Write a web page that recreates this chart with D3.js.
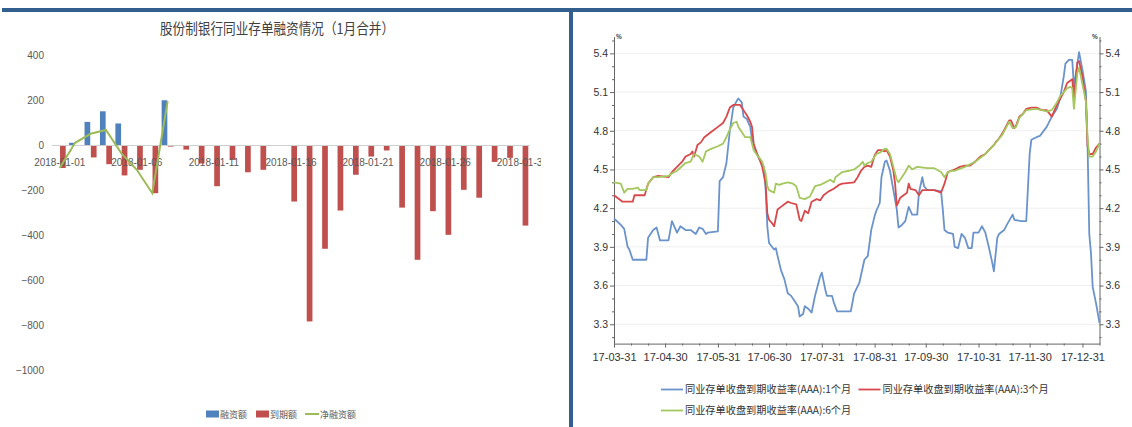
<!DOCTYPE html>
<html><head><meta charset="utf-8">
<script src="https://cdn.jsdelivr.net/npm/d3@7"></script>
<style>
html,body{margin:0;padding:0;background:#fff;}
svg{display:block;}
</style></head><body>
<svg id="c" width="1132" height="427"></svg>
<script>
// ---------- LEFT CHART DATA ----------
const leftTitle = "股份制银行同业存单融资情况（1月合并）";
const days = ["2018-01-01","2018-01-02","2018-01-03","2018-01-04","2018-01-05","2018-01-06","2018-01-07","2018-01-08","2018-01-09","2018-01-10",
  "2018-01-11","2018-01-12","2018-01-13","2018-01-14","2018-01-15","2018-01-16","2018-01-17","2018-01-18","2018-01-19","2018-01-20",
  "2018-01-21","2018-01-22","2018-01-23","2018-01-24","2018-01-25","2018-01-26","2018-01-27","2018-01-28","2018-01-29","2018-01-30","2018-01-31"];
const dayLabels = ["2018-01-01","2018-01-06","2018-01-11","2018-01-16","2018-01-21","2018-01-26","2018-01-31"];
const issuance = [0,12,105,152,98,0,0,201,0,0,0,0,0,0,0,0,0,0,0,0,0,0,0,0,0,0,0,0,0,0,0];
const maturity = [-100,0,-53,-83,-133,-108,-212,-5,-18,-80,-181,-64,-119,-108,-2,-249,-782,-459,-289,-130,-49,-22,-276,-508,-292,-397,-197,-232,-73,-55,-356];
const netDays = ["2018-01-01","2018-01-02","2018-01-03","2018-01-04","2018-01-05","2018-01-06","2018-01-07","2018-01-08"];
const netFinancing = [-100,12,52,69,-35,-108,-212,196];
const leftTicks = [400,200,0,-200,-400,-600,-800,-1000];
const leftLegend = ["融资额","到期额","净融资额"];

// ---------- RIGHT CHART DATA ----------
const rateTicks = [3.3,3.6,3.9,4.2,4.5,4.8,5.1,5.4];
const monthTicks = ["2017-03-31","2017-04-30","2017-05-31","2017-06-30","2017-07-31","2017-08-31","2017-09-30","2017-10-31","2017-11-30","2017-12-31"];
const rightLegend = ["同业存单收盘到期收益率(AAA):1个月","同业存单收盘到期收益率(AAA):3个月","同业存单收盘到期收益率(AAA):6个月"];
const ncd1m = [
["2017-03-31",4.12],["2017-04-04",4.07],["2017-04-06",4.04],["2017-04-08",3.90],["2017-04-09",3.88],["2017-04-11",3.80],["2017-04-19",3.80],
["2017-04-20",3.97],["2017-04-23",4.03],["2017-04-25",4.05],["2017-04-27",3.95],["2017-05-02",3.95],["2017-05-04",4.10],["2017-05-07",4.01],
["2017-05-09",4.06],["2017-05-12",4.03],["2017-05-15",4.03],["2017-05-18",4.00],["2017-05-20",4.05],["2017-05-22",4.04],["2017-05-24",4.00],
["2017-05-25",4.01],["2017-05-31",4.02],["2017-06-01",4.41],["2017-06-03",4.44],["2017-06-05",4.55],["2017-06-07",4.80],["2017-06-09",4.98],
["2017-06-11",5.03],["2017-06-12",5.05],["2017-06-14",5.02],["2017-06-15",4.91],["2017-06-17",4.89],["2017-06-19",4.83],["2017-06-20",4.73],
["2017-06-21",4.69],["2017-06-23",4.62],["2017-06-25",4.56],["2017-06-27",4.52],["2017-06-28",4.35],["2017-06-29",4.06],["2017-06-30",3.93],
["2017-07-03",3.88],["2017-07-04",3.89],["2017-07-05",3.83],["2017-07-07",3.72],["2017-07-09",3.65],["2017-07-11",3.54],["2017-07-13",3.52],
["2017-07-15",3.48],["2017-07-17",3.44],["2017-07-18",3.36],["2017-07-20",3.38],["2017-07-21",3.44],["2017-07-23",3.42],["2017-07-25",3.39],
["2017-07-27",3.52],["2017-07-30",3.67],["2017-07-31",3.70],["2017-08-02",3.57],["2017-08-03",3.52],["2017-08-06",3.52],["2017-08-07",3.47],
["2017-08-09",3.40],["2017-08-17",3.40],["2017-08-19",3.54],["2017-08-22",3.62],["2017-08-25",3.80],["2017-08-27",3.83],["2017-08-29",4.03],
["2017-08-31",4.14],["2017-09-01",4.18],["2017-09-03",4.24],["2017-09-04",4.44],["2017-09-06",4.56],["2017-09-07",4.57],["2017-09-09",4.49],
["2017-09-11",4.34],["2017-09-13",4.19],["2017-09-14",4.05],["2017-09-16",4.07],["2017-09-18",4.10],["2017-09-20",4.21],["2017-09-21",4.18],
["2017-09-22",4.15],["2017-09-25",4.15],["2017-09-26",4.32],["2017-09-28",4.44],["2017-09-29",4.37],["2017-10-01",4.34],["2017-10-05",4.34],
["2017-10-09",4.33],["2017-10-10",4.19],["2017-10-11",4.03],["2017-10-13",4.01],["2017-10-16",4.00],["2017-10-17",3.90],["2017-10-19",3.89],
["2017-10-21",4.00],["2017-10-23",3.97],["2017-10-25",3.89],["2017-10-27",3.89],["2017-10-28",4.01],["2017-10-31",4.01],["2017-11-02",4.06],
["2017-11-04",4.01],["2017-11-06",3.90],["2017-11-08",3.78],["2017-11-09",3.71],["2017-11-11",3.97],["2017-11-12",4.00],["2017-11-15",4.03],
["2017-11-17",4.08],["2017-11-20",4.15],["2017-11-21",4.11],["2017-11-25",4.10],["2017-11-28",4.10],["2017-11-30",4.62],["2017-12-01",4.73],
["2017-12-04",4.75],["2017-12-06",4.76],["2017-12-10",4.83],["2017-12-13",4.91],["2017-12-16",4.97],["2017-12-18",5.06],["2017-12-20",5.22],
["2017-12-21",5.32],["2017-12-23",5.35],["2017-12-25",5.35],["2017-12-26",5.14],["2017-12-29",5.41],["2017-12-31",5.27],["2018-01-02",5.11],
["2018-01-03",4.68],["2018-01-04",4.00],["2018-01-05",3.85],["2018-01-06",3.59],["2018-01-08",3.46],["2018-01-10",3.31]];
const ncd3m = [
["2017-03-31",4.30],["2017-04-05",4.25],["2017-04-11",4.25],["2017-04-12",4.30],["2017-04-18",4.30],["2017-04-20",4.39],["2017-04-23",4.44],
["2017-04-26",4.45],["2017-05-02",4.44],["2017-05-04",4.48],["2017-05-07",4.52],["2017-05-10",4.56],["2017-05-12",4.60],["2017-05-15",4.62],
["2017-05-16",4.64],["2017-05-17",4.60],["2017-05-19",4.69],["2017-05-21",4.71],["2017-05-23",4.75],["2017-05-27",4.79],["2017-05-31",4.83],
["2017-06-03",4.86],["2017-06-05",4.91],["2017-06-07",4.98],["2017-06-09",5.00],["2017-06-13",5.00],["2017-06-15",4.96],["2017-06-17",4.92],
["2017-06-19",4.87],["2017-06-20",4.83],["2017-06-21",4.70],["2017-06-23",4.62],["2017-06-25",4.56],["2017-06-26",4.52],["2017-06-28",4.39],
["2017-06-29",4.16],["2017-06-30",4.11],["2017-07-02",4.08],["2017-07-03",4.06],["2017-07-05",4.19],["2017-07-07",4.21],["2017-07-09",4.23],
["2017-07-11",4.25],["2017-07-13",4.24],["2017-07-16",4.23],["2017-07-18",4.11],["2017-07-19",4.10],["2017-07-21",4.18],["2017-07-23",4.16],
["2017-07-25",4.25],["2017-07-28",4.27],["2017-07-30",4.26],["2017-08-01",4.30],["2017-08-04",4.33],["2017-08-07",4.35],["2017-08-10",4.38],
["2017-08-12",4.39],["2017-08-19",4.40],["2017-08-21",4.44],["2017-08-23",4.49],["2017-08-25",4.52],["2017-08-27",4.53],["2017-08-29",4.52],
["2017-08-31",4.61],["2017-09-02",4.65],["2017-09-04",4.65],["2017-09-06",4.64],["2017-09-07",4.65],["2017-09-09",4.60],["2017-09-11",4.49],
["2017-09-12",4.39],["2017-09-13",4.22],["2017-09-15",4.28],["2017-09-17",4.30],["2017-09-19",4.32],["2017-09-20",4.39],["2017-09-21",4.35],
["2017-09-24",4.34],["2017-09-26",4.30],["2017-09-28",4.34],["2017-10-05",4.34],["2017-10-09",4.32],["2017-10-11",4.39],["2017-10-13",4.48],
["2017-10-15",4.49],["2017-10-17",4.50],["2017-10-20",4.52],["2017-10-23",4.53],["2017-10-26",4.53],["2017-10-29",4.56],["2017-11-01",4.60],
["2017-11-04",4.62],["2017-11-06",4.65],["2017-11-09",4.69],["2017-11-10",4.71],["2017-11-12",4.74],["2017-11-14",4.78],["2017-11-16",4.83],
["2017-11-18",4.88],["2017-11-19",4.88],["2017-11-21",4.82],["2017-11-22",4.84],["2017-11-24",4.91],["2017-11-26",4.93],["2017-11-28",4.97],
["2017-12-01",4.98],["2017-12-04",4.98],["2017-12-07",4.96],["2017-12-10",4.96],["2017-12-13",4.91],["2017-12-16",5.00],["2017-12-18",5.05],
["2017-12-20",5.10],["2017-12-22",5.17],["2017-12-24",5.19],["2017-12-25",5.20],["2017-12-26",5.05],["2017-12-28",5.33],["2017-12-29",5.34],
["2017-12-31",5.22],["2018-01-02",5.03],["2018-01-03",4.68],["2018-01-04",4.62],["2018-01-06",4.62],["2018-01-08",4.67],["2018-01-10",4.70]];
const ncd6m = [
["2017-03-31",4.40],["2017-04-04",4.39],["2017-04-06",4.32],["2017-04-08",4.35],["2017-04-11",4.35],["2017-04-14",4.36],["2017-04-15",4.34],
["2017-04-19",4.34],["2017-04-20",4.39],["2017-04-23",4.44],["2017-04-26",4.44],["2017-05-02",4.45],["2017-05-04",4.47],["2017-05-07",4.49],
["2017-05-12",4.55],["2017-05-15",4.56],["2017-05-17",4.62],["2017-05-20",4.60],["2017-05-22",4.56],["2017-05-24",4.64],["2017-05-27",4.66],
["2017-05-31",4.68],["2017-06-03",4.70],["2017-06-05",4.75],["2017-06-07",4.81],["2017-06-09",4.86],["2017-06-11",4.87],["2017-06-12",4.83],
["2017-06-14",4.79],["2017-06-16",4.75],["2017-06-19",4.75],["2017-06-20",4.70],["2017-06-21",4.65],["2017-06-23",4.61],["2017-06-25",4.58],
["2017-06-26",4.56],["2017-06-28",4.47],["2017-06-29",4.37],["2017-06-30",4.34],["2017-07-03",4.32],["2017-07-04",4.39],["2017-07-06",4.38],
["2017-07-08",4.39],["2017-07-11",4.40],["2017-07-14",4.39],["2017-07-16",4.37],["2017-07-18",4.28],["2017-07-21",4.27],["2017-07-24",4.29],
["2017-07-27",4.37],["2017-07-30",4.38],["2017-08-02",4.40],["2017-08-05",4.42],["2017-08-07",4.40],["2017-08-08",4.44],["2017-08-12",4.48],
["2017-08-16",4.49],["2017-08-19",4.50],["2017-08-22",4.53],["2017-08-24",4.56],["2017-08-25",4.53],["2017-08-27",4.55],["2017-08-29",4.56],
["2017-08-31",4.60],["2017-09-01",4.62],["2017-09-03",4.63],["2017-09-06",4.66],["2017-09-07",4.66],["2017-09-09",4.62],["2017-09-11",4.52],
["2017-09-13",4.42],["2017-09-14",4.40],["2017-09-16",4.44],["2017-09-18",4.48],["2017-09-20",4.53],["2017-09-22",4.50],["2017-09-25",4.52],
["2017-10-01",4.51],["2017-10-05",4.51],["2017-10-09",4.48],["2017-10-11",4.44],["2017-10-13",4.48],["2017-10-15",4.49],["2017-10-17",4.49],
["2017-10-23",4.52],["2017-10-29",4.56],["2017-11-04",4.62],["2017-11-09",4.69],["2017-11-14",4.77],["2017-11-18",4.87],["2017-11-20",4.82],
["2017-11-22",4.83],["2017-11-24",4.90],["2017-11-28",4.96],["2017-12-04",4.97],["2017-12-07",4.96],["2017-12-10",4.95],["2017-12-13",4.96],
["2017-12-16",5.02],["2017-12-18",5.07],["2017-12-20",5.10],["2017-12-22",5.13],["2017-12-24",5.14],["2017-12-25",5.13],["2017-12-26",4.97],
["2017-12-28",5.25],["2017-12-29",5.29],["2017-12-31",5.16],["2018-01-02",5.03],["2018-01-03",4.74],["2018-01-04",4.60],["2018-01-06",4.60],
["2018-01-08",4.64],["2018-01-10",4.70]];

// ---------- COMMON ----------
const svg = d3.select("#c");
const BORDER = "#335f8e";
const NUM_NARROW = "'Liberation Sans Narrow','Arial Narrow','Liberation Sans',sans-serif";
const CJK = "'Noto Sans CJK SC','Noto Sans',sans-serif";

// ================= LEFT CHART =================
const L = svg.append("g");
const xL = d3.scaleBand().domain(days).range([52, 530]).paddingInner(0.22).paddingOuter(0.11);
const xSub = d3.scaleBand().domain(["iss","mat"]).range([0, xL.bandwidth()]).paddingInner(0.1);
const yL = d3.scaleLinear().domain([-1000, 400]).range([370.5, 55.5]);
const cL = {iss:"#4f81bd", mat:"#c0504d", net:"#9bbb59"};

L.append("text").attr("x", 277).attr("y", 33.5).attr("text-anchor","middle")
  .attr("font-family", CJK).attr("font-size", 15).attr("fill","#404040")
  .attr("textLength", 234).attr("lengthAdjust","spacingAndGlyphs").text(leftTitle);

// y labels
const yAxL = L.append("g").attr("transform","translate(52,0)")
  .call(d3.axisLeft(yL).tickValues(leftTicks).tickSize(0).tickPadding(8).tickFormat(d3.format("d")));
yAxL.select(".domain").remove();
yAxL.selectAll("text").attr("font-family", NUM_NARROW).attr("font-size", 10).attr("fill","#595959");

// bars
L.append("g").selectAll("rect.iss").data(days.map((d,i)=>({d, v:issuance[i]})).filter(o=>o.v!==0))
  .join("rect").attr("x", o=>xL(o.d)+xSub("iss")).attr("width", xSub.bandwidth())
  .attr("y", o=>yL(Math.max(0,o.v))).attr("height", o=>Math.abs(yL(o.v)-yL(0))).attr("fill", cL.iss);
L.append("g").selectAll("rect.mat").data(days.map((d,i)=>({d, v:maturity[i]})).filter(o=>o.v!==0))
  .join("rect").attr("x", o=>xL(o.d)+xSub("mat")).attr("width", xSub.bandwidth())
  .attr("y", o=>yL(Math.max(0,o.v))).attr("height", o=>Math.abs(yL(o.v)-yL(0))).attr("fill", cL.mat);

// zero line
L.append("line").attr("x1", 52).attr("x2", 530).attr("y1", yL(0)).attr("y2", yL(0))
  .attr("stroke","#d0d0d0").attr("stroke-width",1);

// x labels (clipped at right like the original)
svg.append("defs").append("clipPath").attr("id","clipL").append("rect")
  .attr("x",0).attr("y",0).attr("width",541).attr("height",427);
const xAxL = L.append("g").attr("clip-path","url(#clipL)").append("g").attr("transform",`translate(0,${yL(0)})`)
  .call(d3.axisBottom(xL).tickValues(dayLabels).tickSize(0).tickPadding(13));
xAxL.select(".domain").remove();
xAxL.selectAll("text").attr("font-family", NUM_NARROW).attr("font-size", 10).attr("fill","#595959");

// net line
L.append("path").datum(netDays.map((d,i)=>({d, v:netFinancing[i]})))
  .attr("fill","none").attr("stroke", cL.net).attr("stroke-width", 2)
  .attr("d", d3.line().x(o=>xL(o.d)+xL.bandwidth()/2).y(o=>yL(o.v)));

// legend
const lg = L.append("g").attr("font-family", CJK).attr("font-size", 9).attr("fill","#595959");
const legX = [206, 256, 305];
lg.append("rect").attr("x",legX[0]).attr("y",410.5).attr("width",13).attr("height",7).attr("fill",cL.iss);
lg.append("rect").attr("x",legX[1]).attr("y",410.5).attr("width",13).attr("height",7).attr("fill",cL.mat);
lg.append("line").attr("x1",legX[2]).attr("x2",legX[2]+14).attr("y1",414).attr("y2",414).attr("stroke",cL.net).attr("stroke-width",2);
leftLegend.forEach((t,i)=>{
  lg.append("text").attr("x", legX[i]+(i===2?15:14)).attr("y", 417.5).text(t);
});

// ================= RIGHT CHART =================
const R = svg.append("g");
const parse = d3.timeParse("%Y-%m-%d");
const xR = d3.scaleTime().domain([parse("2017-03-31"), parse("2018-01-10")]).range([614, 1099.5]);
const yR = d3.scaleLinear().domain([3.15, 5.53]).range([343.6, 36.6]);
const axisColor = "#666";

// gridlines
R.append("g").selectAll("line").data(rateTicks).join("line")
  .attr("x1", 614).attr("x2", 1099.5).attr("y1", d=>yR(d)).attr("y2", d=>yR(d))
  .attr("stroke","#efefef").attr("stroke-width",1);

// minor tick values
const minorRate = d3.range(32, 56).map(k=>k/10).filter(v=>!rateTicks.some(t=>Math.abs(t-v)<1e-6));
const minorDates = [];
monthTicks.forEach(m=>{
  const dt = parse(m);
  const nm = d3.timeMonth.offset(d3.timeMonth.floor(dt), 1);
  [10,20].forEach(dd=>{ const t = new Date(nm.getFullYear(), nm.getMonth(), dd); if (t <= xR.domain()[1]) minorDates.push(t); });
});

function styleAxis(g, fs){
  g.select(".domain").attr("stroke", axisColor);
  g.selectAll(".tick line").attr("stroke", axisColor);
  g.selectAll("text").attr("font-family","'Liberation Sans',Arial,sans-serif").attr("font-size", fs).attr("fill","#333");
}
// left axis
const ayL = R.append("g").attr("transform","translate(614,0)")
  .call(d3.axisLeft(yR).tickValues(rateTicks).tickSize(4).tickSizeOuter(0).tickPadding(2).tickFormat(d3.format(".1f")));
styleAxis(ayL, 10.5);
const ayLm = R.append("g").attr("transform","translate(614,0)")
  .call(d3.axisLeft(yR).tickValues(minorRate).tickSize(2).tickSizeOuter(0).tickFormat(""));
ayLm.select(".domain").remove(); ayLm.selectAll(".tick line").attr("stroke", axisColor);
// right axis
const ayR = R.append("g").attr("transform","translate(1099.5,0)")
  .call(d3.axisRight(yR).tickValues(rateTicks).tickSize(4).tickSizeOuter(0).tickPadding(2).tickFormat(d3.format(".1f")));
styleAxis(ayR, 10.5);
const ayRm = R.append("g").attr("transform","translate(1099.5,0)")
  .call(d3.axisRight(yR).tickValues(minorRate).tickSize(2).tickSizeOuter(0).tickFormat(""));
ayRm.select(".domain").remove(); ayRm.selectAll(".tick line").attr("stroke", axisColor);
// bottom axis
const axB = R.append("g").attr("transform","translate(0,343.6)")
  .call(d3.axisBottom(xR).tickValues(monthTicks.map(parse)).tickSize(4).tickSizeOuter(0).tickPadding(6).tickFormat(d3.timeFormat("%y-%m-%d")));
styleAxis(axB, 11);
const axBm = R.append("g").attr("transform","translate(0,343.6)")
  .call(d3.axisBottom(xR).tickValues(minorDates).tickSize(2).tickSizeOuter(0).tickFormat(""));
axBm.select(".domain").remove(); axBm.selectAll(".tick line").attr("stroke", axisColor);

// % unit labels
R.append("text").attr("x", 616).attr("y", 39).attr("font-size", 6.5).attr("font-weight","bold").attr("fill","#444")
  .attr("font-family","'Liberation Sans',sans-serif").text("%");
R.append("text").attr("x", 1092).attr("y", 39).attr("font-size", 6.5).attr("font-weight","bold").attr("fill","#444")
  .attr("font-family","'Liberation Sans',sans-serif").text("%");

// lines
const cR = ["#6a93cc", "#d9484a", "#a4c85e"];
const lineR = d3.line().x(p=>xR(parse(p[0]))).y(p=>yR(p[1]));
[ncd1m, ncd3m, ncd6m].forEach((s,i)=>{
  R.append("path").datum(s).attr("fill","none").attr("stroke", cR[i]).attr("stroke-width",1.8)
    .attr("stroke-linejoin","round").attr("d", lineR);
});

// legend
const rl = R.append("g").attr("font-family", CJK).attr("font-size", 10.2).attr("fill","#333");
const rlPos = [[661, 389.5],[858.5, 389.5],[661, 410.5]];
rightLegend.forEach((t,i)=>{
  const [x0,y0] = rlPos[i];
  rl.append("line").attr("x1",x0).attr("x2",x0+22).attr("y1",y0).attr("y2",y0).attr("stroke",cR[i]).attr("stroke-width",1.8);
  rl.append("text").attr("x", x0+24).attr("y", y0+3.6).text(t);
});

// ================= BORDERS =================
svg.append("rect").attr("x",2).attr("y",8).attr("width",1130).attr("height",4).attr("fill",BORDER);
svg.append("rect").attr("x",569).attr("y",8).attr("width",4).attr("height",419).attr("fill",BORDER);
</script></body></html>
